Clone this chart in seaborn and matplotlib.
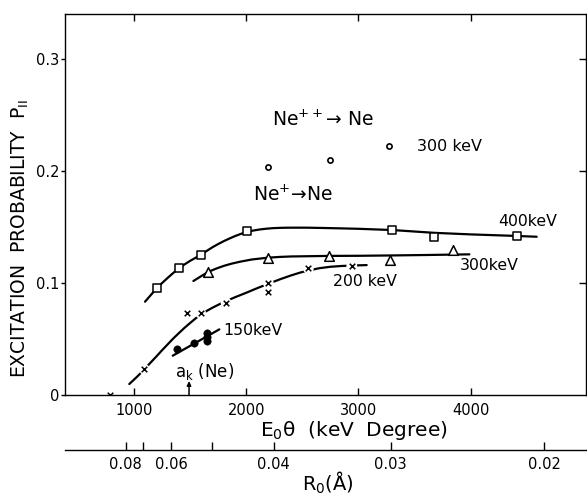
import numpy as np
import pandas as pd
import matplotlib
matplotlib.use("Agg")
import matplotlib.pyplot as plt
import seaborn as sns

# ---------------- data ----------------
# 400 keV (open squares) and its fitted curve
sq_x = [1201, 1404, 1597, 2004, 3301, 3676, 4415]
sq_y = [0.0952, 0.1134, 0.1253, 0.1467, 0.1473, 0.1408, 0.1420]
c400_x = [1098, 1150, 1201, 1250, 1300, 1350, 1404, 1450, 1500, 1550, 1597, 1650, 1700, 1750, 1800, 1850, 1900, 1950,
          2004, 2060, 2120, 2180, 2241, 2320, 2400, 2538, 2700, 2836, 3000, 3301, 3676, 4000, 4415, 4588]
c400_y = [0.0833, 0.0893, 0.0952, 0.1000, 0.1046, 0.1090, 0.1134, 0.1166, 0.1198, 0.1226, 0.1253, 0.1288, 0.1320,
          0.1348, 0.1374, 0.1397, 0.1419, 0.1438, 0.1455, 0.1468, 0.1478, 0.1485, 0.1490, 0.1493, 0.1494, 0.1494,
          0.1491, 0.1488, 0.1484, 0.1473, 0.1448, 0.1434, 0.1420, 0.1413]

# 300 keV (open triangles) and its fitted curve
tri_x = [1663, 2191, 2740, 3281, 3839]
tri_y = [0.1100, 0.1226, 0.1244, 0.1205, 0.1295]
c300_x = [1529, 1600, 1663, 1730, 1800, 1870, 1944, 2050, 2191, 2300, 2400, 2740, 3000, 3281, 3600, 3988]
c300_y = [0.1018, 0.1062, 0.1100, 0.1128, 0.1153, 0.1173, 0.1190, 0.1210, 0.1226, 0.1233, 0.1237, 0.1242, 0.1243,
          0.1246, 0.1250, 0.1256]

# 200 keV (crosses) and its fitted curve
x200_x = [786, 1092, 1475, 1594, 1820, 2197, 2197, 2553, 2940]
x200_y = [0.0, 0.0229, 0.0729, 0.0729, 0.0824, 0.0997, 0.0917, 0.1130, 0.1155]
c200_x = [958, 1030, 1092, 1150, 1200, 1250, 1291, 1350, 1400, 1450, 1500, 1550, 1594, 1650, 1700, 1760, 1820,
          1900, 2000, 2100, 2197, 2300, 2400, 2480, 2553, 2650, 2750, 2850, 2940, 3073]
c200_y = [0.0098, 0.0166, 0.0229, 0.0292, 0.0345, 0.0400, 0.0443, 0.0505, 0.0553, 0.0600, 0.0643, 0.0685,
          0.0718, 0.0752, 0.0780, 0.0810, 0.0838, 0.0873, 0.0913, 0.0955, 0.0993, 0.1033, 0.1068, 0.1093,
          0.1112, 0.1132, 0.1145, 0.1152, 0.1156, 0.1160]

# 150 keV (filled circles) and its straight line
f150_x = [1386, 1535, 1650, 1650, 1650]
f150_y = [0.0408, 0.0460, 0.0480, 0.0520, 0.0556]
c150_x = [1345, 1760]
c150_y = [0.0351, 0.0586]

# Ne++ -> Ne, 300 keV (small open circles)
ne2_x = [2197, 2746, 3275]
ne2_y = [0.2033, 0.2098, 0.2223]

# axes ticks
x_ticks = [1000, 2000, 3000, 4000]
x_tick_labels = ["1000", "2000", "3000", "4000"]
y_ticks = [0.0, 0.1, 0.2, 0.3]
y_tick_labels = ["0", "0.1", "0.2", "0.3"]
# R0 scale (positions expressed in E0*theta units)
r0_tick_pos = [926, 1078, 1330, 1692, 2241, 3281, 4647]
r0_tick_labels = ["0.08", "", "0.06", "", "0.04", "0.03", "0.02"]

a_k_pos = 1490

# ---------------- figure ----------------
sns.set_style("ticks")
plt.rcParams["font.family"] = ["DejaVu Sans"]
plt.rcParams["mathtext.fontset"] = "dejavusans"
for key in ["text.color", "axes.labelcolor", "xtick.color", "ytick.color", "axes.edgecolor"]:
    plt.rcParams[key] = "black"

W, H = 587, 498
fig = plt.figure(figsize=(W / 100, H / 100), dpi=100)
L, R, B, T = 65, 586, 395, 14
ax = fig.add_axes([L / W, 1 - B / H, (R - L) / W, (B - T) / H])
ax.set_xlim(385, 5027)
ax.set_ylim(0, 0.3402)

lw = 1.6
k = "black"

# curves
sns.lineplot(x=c400_x, y=c400_y, color=k, lw=lw, sort=False, estimator=None, ax=ax, zorder=2)
sns.lineplot(x=c300_x, y=c300_y, color=k, lw=lw, sort=False, estimator=None, ax=ax, zorder=2)
sns.lineplot(x=c200_x, y=c200_y, color=k, lw=lw, sort=False, estimator=None, ax=ax, zorder=2)
sns.lineplot(x=c150_x, y=c150_y, color=k, lw=lw, sort=False, estimator=None, ax=ax, zorder=2)

# white halos giving the broken look of the 200 keV curve around its crosses
sns.scatterplot(x=x200_x[1:], y=x200_y[1:], marker="o", s=60, color="white",
                edgecolor="none", ax=ax, zorder=3)

# markers
sns.scatterplot(x=sq_x, y=sq_y, marker="s", s=32, facecolor="white", edgecolor=k,
                linewidth=1.1, ax=ax, zorder=4)
sns.scatterplot(x=tri_x, y=tri_y, marker="^", s=48, facecolor="white", edgecolor=k,
                linewidth=1.1, ax=ax, zorder=4)
sns.scatterplot(x=x200_x, y=x200_y, marker="x", s=16, color=k, linewidth=1.1, ax=ax, zorder=4)
sns.scatterplot(x=f150_x, y=f150_y, marker="o", s=28, color=k, edgecolor=k, ax=ax, zorder=4)
sns.scatterplot(x=ne2_x, y=ne2_y, marker="o", s=14, facecolor="white", edgecolor=k,
                linewidth=1.2, ax=ax, zorder=4)

# ticks and spines
for s in ax.spines.values():
    s.set_linewidth(1.0)
    s.set_visible(True)
    s.set_color(k)
ax.set_xticks(x_ticks)
ax.set_xticklabels(x_tick_labels, fontsize=10.5)
ax.set_yticks(y_ticks)
ax.set_yticklabels(y_tick_labels, fontsize=10.5)
ax.tick_params(axis="x", which="both", direction="in", top=True, bottom=True, length=5, pad=6, width=1)
ax.tick_params(axis="y", which="both", direction="out", left=True, right=False, length=3, pad=1, width=1)
# right side inward ticks (without the zero)
axr = ax.twinx()
axr.set_ylim(ax.get_ylim())
axr.set_yticks(y_ticks[1:])
axr.set_yticklabels([])
axr.tick_params(axis="y", direction="in", length=5, width=1)
for s in axr.spines.values():
    s.set_visible(False)
axr.set_ylabel("")

# annotations
fs = 13.5
ax.text(2227, 0.2455, "Ne$^{++}$\u2192 Ne", fontsize=fs, va="center", ha="left")
ax.text(2060, 0.1786, "Ne$^{+}$\u2192Ne", fontsize=fs, va="center", ha="left")
ax.text(3519, 0.2223, "300 keV", fontsize=11.5, va="center", ha="left")
ax.text(4243, 0.1545, "400keV", fontsize=11.3, va="center", ha="left")
ax.text(3905, 0.1152, "300keV", fontsize=11.3, va="center", ha="left")
ax.text(2773, 0.1012, "200 keV", fontsize=11.3, va="center", ha="left")
ax.text(1793, 0.0580, "150keV", fontsize=11.3, va="center", ha="left")
ax.text(1365, 0.0208, "$\\mathregular{a_k}$ (Ne)", fontsize=12, va="center", ha="left")
ax.annotate("", xy=(a_k_pos, 0.0125), xytext=(a_k_pos, 0.0),
            arrowprops=dict(arrowstyle="-|>,head_length=0.25,head_width=0.12", color=k, lw=1.1,
                            shrinkA=0, shrinkB=0))

# axis labels
fig.text(20 / W, 1 - 238 / H, "EXCITATION  PROBABILITY  P$_{\\mathrm{II}}$", rotation=90,
         fontsize=13.5, ha="center", va="center")
fig.text(354 / W, 1 - 430 / H, "E$_0$\u03b8  (keV  Degree)", fontsize=14.5, ha="center", va="center")

# secondary R0 scale
ax2 = fig.add_axes([L / W, 1 - 450 / H, (R + 1 - L) / W, 0.0001])
ax2.set_xlim(ax.get_xlim())
ax2.set_yticks([])
for side in ["top", "left", "right"]:
    ax2.spines[side].set_visible(False)
ax2.spines["bottom"].set_linewidth(1.0)
ax2.spines["bottom"].set_color(k)
ax2.set_xticks(r0_tick_pos)
ax2.set_xticklabels(r0_tick_labels, fontsize=10.5)
ax2.tick_params(axis="x", direction="in", length=6, pad=5, width=1)
ax2.patch.set_visible(False)
fig.text(328 / W, 1 - 483 / H, "R$_0$(\u00c5)", fontsize=14, ha="center", va="center")

fig.savefig("out.png", dpi=100)
